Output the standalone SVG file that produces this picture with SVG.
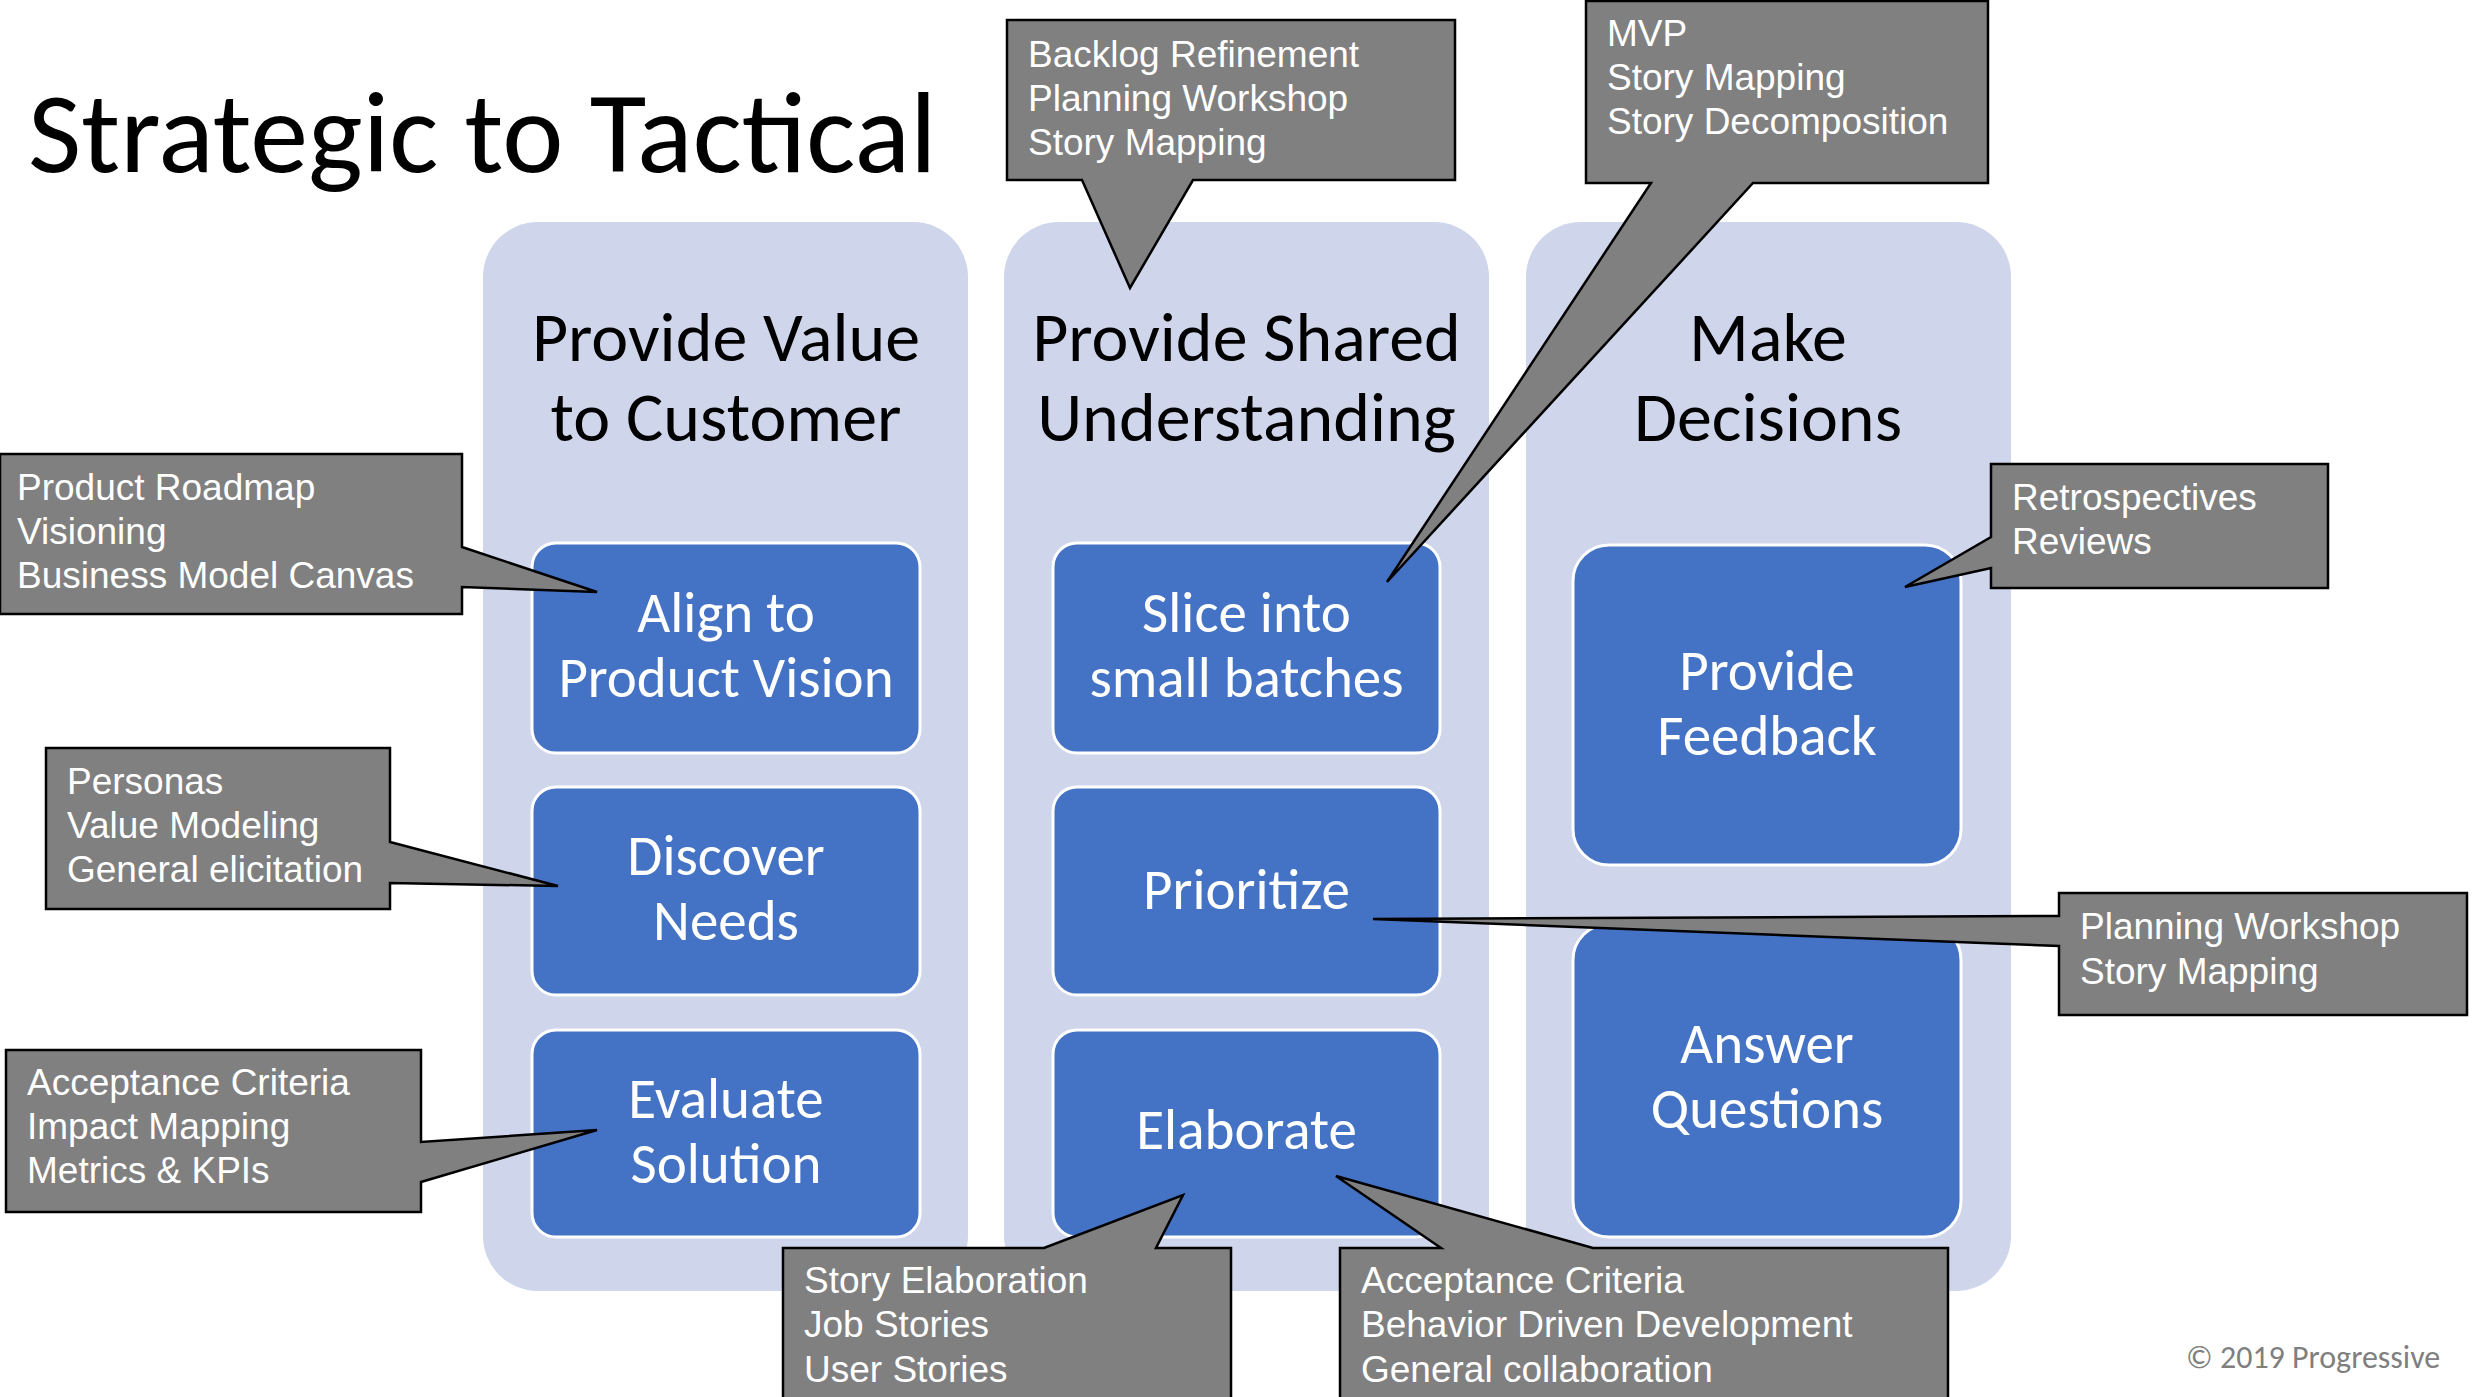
<svg xmlns="http://www.w3.org/2000/svg" width="2484" height="1397" viewBox="0 0 2484 1397">
<style>
.panel{fill:#CFD5EA;stroke:none}
.box{fill:#4472C4;stroke:#FFFFFF;stroke-width:3}
.head{font-family:Carlito,Lato,"Open Sans",sans-serif;font-size:70px;fill:#000000;text-anchor:middle}
.lbl{font-family:Carlito,Lato,"Open Sans",sans-serif;font-size:57px;fill:#FFFFFF;text-anchor:middle}
.call{fill:#808080;stroke:#000000;stroke-width:2.5;stroke-linejoin:miter}
.ct{font-family:"Liberation Sans",Arial,sans-serif;font-size:37px;fill:#FFFFFF}
.title{font-family:Carlito,Lato,"Open Sans",sans-serif;font-size:116px;font-weight:300;fill:#000000}
.copy{font-family:Carlito,Lato,"Open Sans",sans-serif;font-size:32px;fill:#7F7F7F}
</style>
<rect x="0" y="0" width="2484" height="1397" fill="#FFFFFF"/>
<text class="title" x="28" y="172">Strategic to Tactical</text>

<g id="panel-value">
<rect class="panel" x="483" y="222" width="485" height="1069" rx="55" ry="55"/>
<text class="head"><tspan x="726" y="361">Provide Value</tspan><tspan x="726" y="441">to Customer</tspan></text>
</g>
<g id="panel-shared">
<rect class="panel" x="1004" y="222" width="485" height="1069" rx="55" ry="55"/>
<text class="head"><tspan x="1246.5" y="361">Provide Shared</tspan><tspan x="1246.5" y="441">Understanding</tspan></text>
</g>
<g id="panel-decisions">
<rect class="panel" x="1526" y="222" width="485" height="1069" rx="55" ry="55"/>
<text class="head"><tspan x="1768" y="361">Make</tspan><tspan x="1768" y="441">Decisions</tspan></text>
</g>

<g id="box-align">
<rect class="box" x="532" y="543" width="388" height="210" rx="24"/>
<text class="lbl"><tspan x="726" y="632">Align to</tspan><tspan x="726" y="697">Product Vision</tspan></text>
</g>
<g id="box-discover">
<rect class="box" x="532" y="787" width="388" height="208" rx="24"/>
<text class="lbl"><tspan x="726" y="875">Discover</tspan><tspan x="726" y="940">Needs</tspan></text>
</g>
<g id="box-evaluate">
<rect class="box" x="532" y="1030" width="388" height="207" rx="24"/>
<text class="lbl"><tspan x="726" y="1118">Evaluate</tspan><tspan x="726" y="1183">Solution</tspan></text>
</g>
<g id="box-slice">
<rect class="box" x="1053" y="543" width="387" height="210" rx="24"/>
<text class="lbl"><tspan x="1246.5" y="632">Slice into</tspan><tspan x="1246.5" y="697">small batches</tspan></text>
</g>
<g id="box-prioritize">
<rect class="box" x="1053" y="787" width="387" height="208" rx="24"/>
<text class="lbl" x="1246.5" y="909">Prioritize</text>
</g>
<g id="box-elaborate">
<rect class="box" x="1053" y="1030" width="387" height="207" rx="24"/>
<text class="lbl" x="1246.5" y="1149">Elaborate</text>
</g>
<g id="box-feedback">
<rect class="box" x="1573" y="545" width="388" height="320" rx="36"/>
<text class="lbl"><tspan x="1767" y="690">Provide</tspan><tspan x="1767" y="755">Feedback</tspan></text>
</g>
<g id="box-questions">
<rect class="box" x="1573" y="924" width="388" height="313" rx="36"/>
<text class="lbl"><tspan x="1767" y="1063">Answer</tspan><tspan x="1767" y="1128">Questions</tspan></text>
</g>

<g id="callouts">
<g id="callout-backlog">
<path class="call" d="M1007,20 H1455 V180 H1193 L1130,288 L1082,180 H1007 Z"/>
<text class="ct"><tspan x="1028" y="67">Backlog Refinement</tspan><tspan x="1028" y="111">Planning Workshop</tspan><tspan x="1028" y="155">Story Mapping</tspan></text>
</g>
<g id="callout-mvp">
<path class="call" d="M1586,1 H1988 V183 H1753 L1387,582 L1651,183 H1586 Z"/>
<text class="ct"><tspan x="1607" y="46">MVP</tspan><tspan x="1607" y="90">Story Mapping</tspan><tspan x="1607" y="134">Story Decomposition</tspan></text>
</g>
<g id="callout-roadmap">
<path class="call" d="M0,454 H462 V547 L597,592 L462,587 V614 H0 Z"/>
<text class="ct"><tspan x="17" y="500">Product Roadmap</tspan><tspan x="17" y="544">Visioning</tspan><tspan x="17" y="588">Business Model Canvas</tspan></text>
</g>
<g id="callout-personas">
<path class="call" d="M46,748 H390 V842 L558,886 L390,883 V909 H46 Z"/>
<text class="ct"><tspan x="67" y="794">Personas</tspan><tspan x="67" y="838">Value Modeling</tspan><tspan x="67" y="882">General elicitation</tspan></text>
</g>
<g id="callout-acceptance-left">
<path class="call" d="M6,1050 H421 V1142 L597,1130 L421,1182 V1212 H6 Z"/>
<text class="ct"><tspan x="27" y="1095">Acceptance Criteria</tspan><tspan x="27" y="1139">Impact Mapping</tspan><tspan x="27" y="1183">Metrics &amp; KPIs</tspan></text>
</g>
<g id="callout-retro">
<path class="call" d="M1991,464 H2328 V588 H1991 V568 L1905,587 L1991,537 Z"/>
<text class="ct"><tspan x="2012" y="510">Retrospectives</tspan><tspan x="2012" y="554">Reviews</tspan></text>
</g>
<g id="callout-planning">
<path class="call" d="M2059,893 H2467 V1015 H2059 V946 L1373,919 L2059,916 Z"/>
<text class="ct"><tspan x="2080" y="939">Planning Workshop</tspan><tspan x="2080" y="984">Story Mapping</tspan></text>
</g>
<g id="callout-story">
<path class="call" d="M783,1248 H1044 L1183,1195 L1156,1248 H1231 V1402 H783 Z"/>
<text class="ct"><tspan x="804" y="1293">Story Elaboration</tspan><tspan x="804" y="1337">Job Stories</tspan><tspan x="804" y="1382">User Stories</tspan></text>
</g>
<g id="callout-acceptance-bottom">
<path class="call" d="M1340,1248 H1441 L1336,1176 L1593,1248 H1948 V1402 H1340 Z"/>
<text class="ct"><tspan x="1361" y="1293">Acceptance Criteria</tspan><tspan x="1361" y="1337">Behavior Driven Development</tspan><tspan x="1361" y="1382">General collaboration</tspan></text>
</g>
</g>

<text class="copy" x="2186" y="1368">© 2019 Progressive</text>
</svg>
